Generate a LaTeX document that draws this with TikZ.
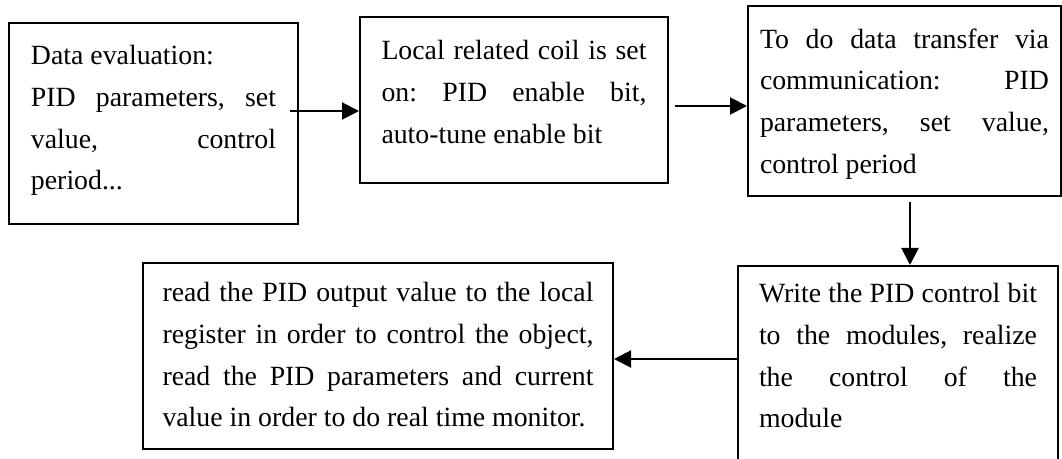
\documentclass[tikz,border=0pt]{standalone}
\usepackage{fontspec}
\setmainfont{Liberation Serif}
\usepackage{tikz}
\usetikzlibrary{arrows.meta}

\tikzset{
  stepbox/.style={draw, line width=1pt, anchor=north west, inner sep=0pt,
    font=\fontsize{13.9pt}{20.85pt}\selectfont\frenchspacing},
  flow/.style={-{Triangle[length=8.5pt, width=8.5pt]}, line width=1pt}
}

\begin{document}
\begin{tikzpicture}[x=0.5pt, y=-0.5pt]

  % page frame (pixel grid of the original figure)
  \useasboundingbox (0,0) rectangle (1062,459);
  \clip (0,0) rectangle (1062,459);

  % top row
  \node[stepbox, inner xsep=11pt, inner ysep=11.25pt] (eval) at (8,22)
    {\parbox[c][78pt][t]{122.5pt}{Data evaluation:\\
      PID parameters, set\linebreak value, control\linebreak period...}};
  \node[stepbox, inner xsep=10.75pt, inner ysep=11.75pt] (coil) at (359,16)
    {\parbox[c][59.5pt][t]{132.5pt}{Local related coil is set\linebreak
      on: PID enable bit,\linebreak auto-tune enable bit}};
  \node[stepbox, inner xsep=6pt, inner ysep=11.25pt] (comm) at (747,5)
    {\parbox[c][72.5pt][t]{144.5pt}{To do data transfer via\linebreak
      communication: PID\linebreak parameters, set value,\linebreak control period}};

  % bottom row
  \node[stepbox, inner xsep=10.5pt, inner ysep=8.75pt] (write) at (737,265)
    {\parbox[c][92.5pt][t]{139pt}{Write the PID control bit\linebreak
      to the modules, realize\linebreak the control of the\linebreak module}};
  \node[stepbox, inner xsep=9.75pt, inner ysep=9.75pt] (read) at (142,262)
    {\parbox[c][73.5pt][t]{215.5pt}{read the PID output value to the local\linebreak
      register in order to control the object,\linebreak
      read the PID parameters and current\linebreak
      value in order to do real time monitor.}};

  % connectors
  \coordinate (a1) at ([shift={(-9,-12.5)}]eval.east);
  \draw[flow] (a1) -- (a1 -| coil.west);
  \coordinate (a2) at ([shift={(6,6)}]coil.east);
  \draw[flow] (a2) -- (a2 -| comm.west);
  \coordinate (a3) at ([shift={(5.5,5)}]comm.south);
  \draw[flow] (a3) -- (a3 |- write.north);
  \coordinate (a4) at ([shift={(0,3)}]read.east);
  \draw[flow] (a4 -| write.west) -- (a4);

\end{tikzpicture}
\end{document}
